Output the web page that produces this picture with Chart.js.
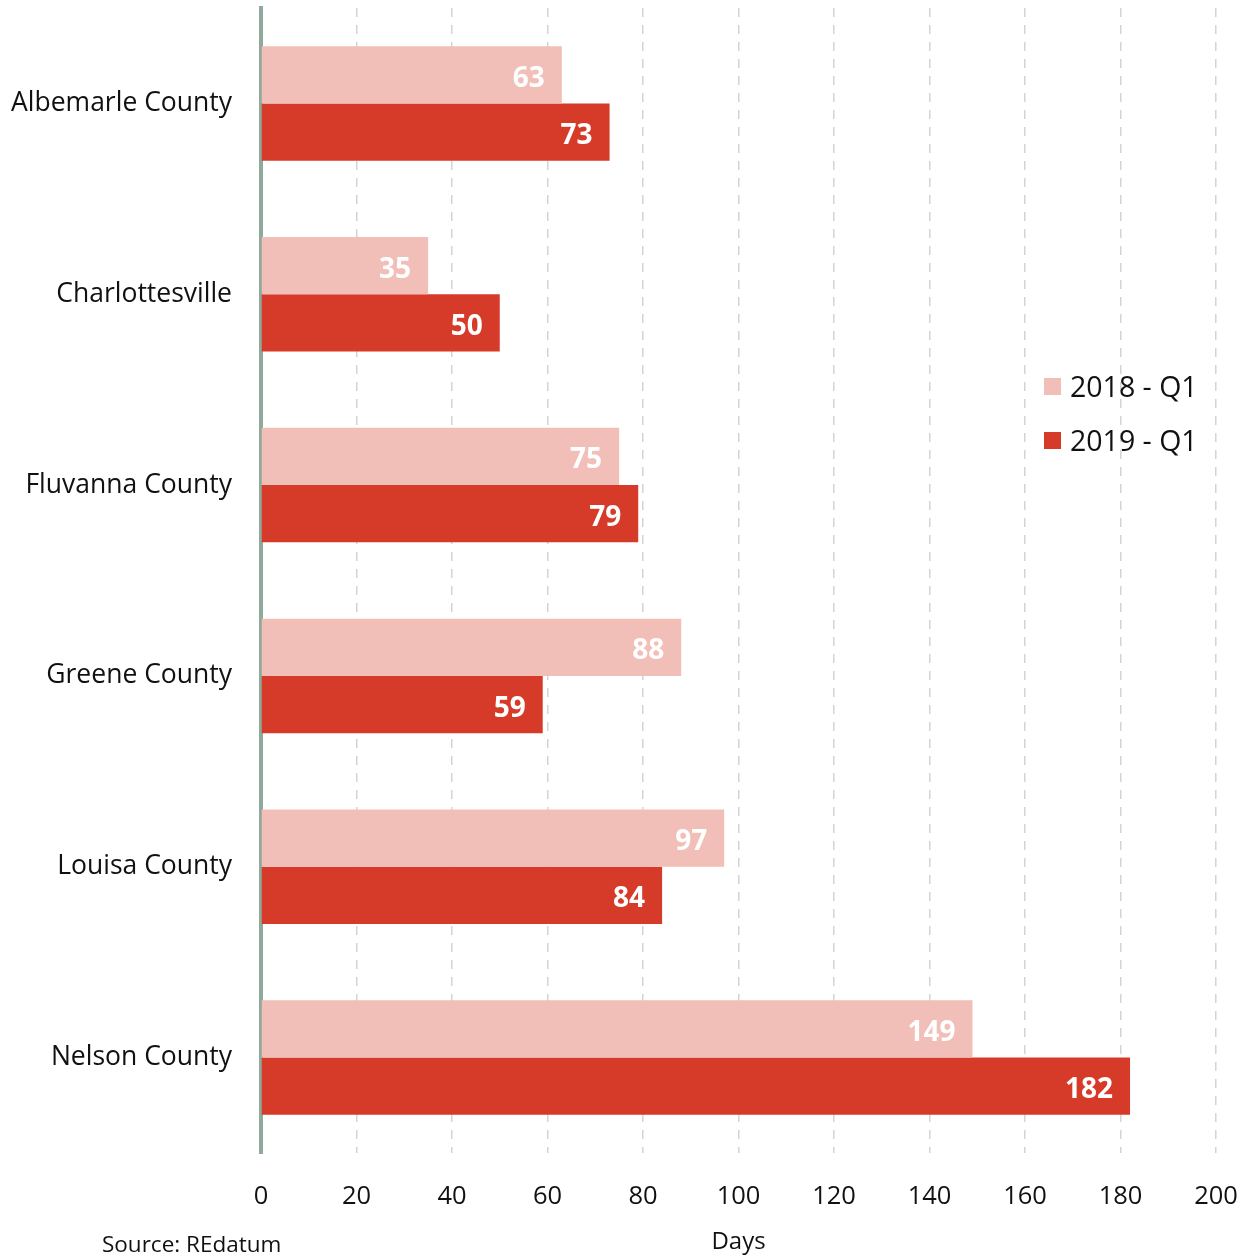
<!DOCTYPE html>
<html>
<head>
<meta charset="utf-8">
<script src="https://cdn.jsdelivr.net/npm/chart.js@4.4.1/dist/chart.umd.min.js"></script>
<style>
  html, body { margin: 0; padding: 0; background: #fff; }
  #wrap { position: relative; width: 1250px; height: 1257px; font-family: 'Open Sans', sans-serif; }
  #legend { position: absolute; left: 1044px; top: 359px; }
  .lg-item { display: flex; align-items: center; height: 54px; font-size: 28.5px; color: #111; }
  .lg-box { width: 17px; height: 17px; margin-right: 9px; }
  #source { position: absolute; left: 102px; top: 1228px; font-size: 22.5px; color: #111; }
</style>
</head>
<body>
<div id="wrap">
  <canvas id="chart" width="1250" height="1257"></canvas>
  <div id="legend"></div>
  <div id="source">Source: REdatum</div>
</div>
<script>
const categories = ['Albemarle County', 'Charlottesville', 'Fluvanna County', 'Greene County', 'Louisa County', 'Nelson County'];
const seriesNames = ['2018 - Q1', '2019 - Q1'];
const values2018 = [63, 35, 75, 88, 97, 149];
const values2019 = [73, 50, 79, 59, 84, 182];
const xTicks = [0, 20, 40, 60, 80, 100, 120, 140, 160, 180, 200];
const colors = ['#f1bfb8', '#d63a28'];

const fontFamily = "'Open Sans', sans-serif";

// white value labels inside bar ends
const barLabels = {
  id: 'barLabels',
  afterDatasetsDraw(chart) {
    const ctx = chart.ctx;
    ctx.save();
    ctx.font = `bold 28px ${fontFamily}`;
    ctx.fillStyle = '#fff';
    ctx.textAlign = 'right';
    ctx.textBaseline = 'middle';
    chart.data.datasets.forEach((ds, i) => {
      chart.getDatasetMeta(i).data.forEach((bar, j) => {
        ctx.fillText(ds.data[j], bar.x - 17, bar.y + 4);
      });
    });
    ctx.restore();
  }
};

const chart = new Chart(document.getElementById('chart'), {
  type: 'bar',
  data: {
    labels: categories,
    datasets: [
      { label: seriesNames[0], data: values2018, backgroundColor: colors[0], barPercentage: 1, categoryPercentage: 0.6 },
      { label: seriesNames[1], data: values2019, backgroundColor: colors[1], barPercentage: 1, categoryPercentage: 0.6 }
    ]
  },
  options: {
    indexAxis: 'y',
    responsive: false,
    animation: false,
    layout: { padding: { top: 8, right: 34, left: 0, bottom: 0 } },
    plugins: { legend: { display: false }, tooltip: { enabled: false } },
    scales: {
      x: {
        min: 0, max: 200,
        afterBuildTicks: s => { s.ticks = xTicks.map(v => ({ value: v })); },
        afterFit: s => { s.height = 104; s.paddingLeft = 0; s.paddingRight = 0; },
        grid: { color: '#d4d4d4', lineWidth: 1.5, drawTicks: false },
        border: { display: false, dash: [9, 8] },
        ticks: { color: '#111', font: { family: fontFamily, size: 25.5 }, padding: 28, maxRotation: 0 },
        title: { display: true, text: 'Days', color: '#111', font: { family: fontFamily, size: 24 }, padding: { top: 8, bottom: 0 } }
      },
      y: {
        afterFit: s => { s.width = 261; s.paddingTop = 0; s.paddingBottom = 0; },
        grid: { display: false },
        border: { display: true, color: '#8fa99b', width: 4 },
        ticks: { color: '#111', font: { family: fontFamily, size: 26.5 }, padding: 21 }
      }
    }
  },
  plugins: [barLabels]
});

// legend overlay
const legendEl = document.getElementById('legend');
seriesNames.forEach((name, i) => {
  const item = document.createElement('div');
  item.className = 'lg-item';
  item.innerHTML = `<span class="lg-box" style="background:${colors[i]}"></span><span>${name}</span>`;
  legendEl.appendChild(item);
});
</script>
</body>
</html>
